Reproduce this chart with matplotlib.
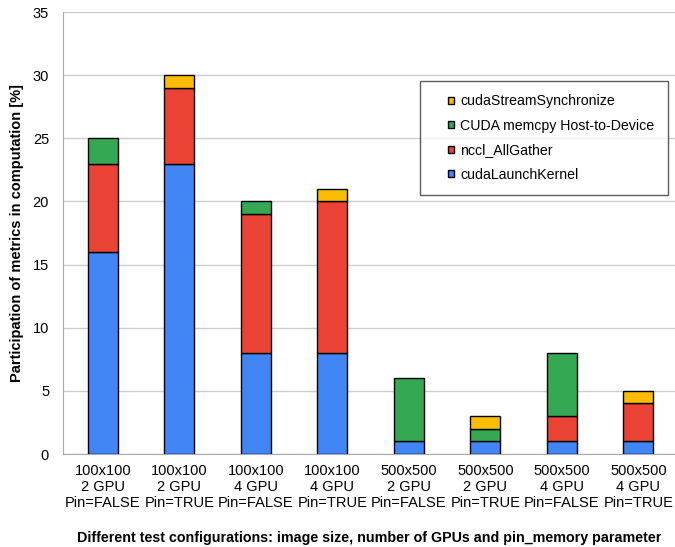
import numpy as np
import matplotlib.pyplot as plt
from matplotlib.legend_handler import HandlerPatch

plt.rcParams['font.family'] = ['Liberation Sans', 'DejaVu Sans']

# Data
configs = ["100x100\n2 GPU\nPin=FALSE", "100x100\n2 GPU\nPin=TRUE",
           "100x100\n4 GPU\nPin=FALSE", "100x100\n4 GPU\nPin=TRUE",
           "500x500\n2 GPU\nPin=FALSE", "500x500\n2 GPU\nPin=TRUE",
           "500x500\n4 GPU\nPin=FALSE", "500x500\n4 GPU\nPin=TRUE"]
launch_kernel = [16, 23, 8, 8, 1, 1, 1, 1]
all_gather = [7, 6, 11, 12, 0, 0, 2, 3]
memcpy_h2d = [2, 0, 1, 0, 5, 1, 5, 0]
stream_sync = [0, 1, 0, 1, 0, 1, 0, 1]

series = [
    ("cudaLaunchKernel", launch_kernel, "#4285F4"),
    ("nccl_AllGather", all_gather, "#EA4335"),
    ("CUDA memcpy Host-to-Device", memcpy_h2d, "#34A853"),
    ("cudaStreamSynchronize", stream_sync, "#FBBC04"),
]


def small_square(legend, orig_handle, xdescent, ydescent, width, height, fontsize):
    # small square marker sitting at the right end of the handle box
    s = 5.0
    return plt.Rectangle((width - s - xdescent, (height - s) / 2 - ydescent), s, s)


fig = plt.figure(figsize=(6.75, 5.47), dpi=100)
ax = fig.add_axes([0.0933, 0.170, 0.9067, 0.808])

x = np.arange(len(configs))
bottom = np.zeros(len(configs))
handles = []
for name, vals, color in series:
    vals = np.array(vals, dtype=float)
    mask = vals > 0
    ax.bar(x[mask], vals[mask], 0.39, bottom=bottom[mask], color=color,
           edgecolor="black", linewidth=1, zorder=3)
    handles.append(plt.Rectangle((0, 0), 1, 1, facecolor=color,
                                 edgecolor="black", linewidth=1, label=name))
    bottom += vals

ax.set_xlim(-0.52, 7.48)
ax.set_ylim(0, 35)
ax.set_yticks(range(0, 36, 5))
ax.set_xticks(x)
ax.set_xticklabels(configs, fontsize=10.5, linespacing=1.2)
ax.tick_params(axis="y", labelsize=10.5, length=0, pad=10)
ax.tick_params(axis="x", length=0, pad=7)
ax.grid(axis="y", color="#cccccc", linewidth=1, zorder=0)

for side in ["top", "right"]:
    ax.spines[side].set_visible(False)
ax.spines["left"].set_color("#aaaaaa")
ax.spines["bottom"].set_color("#aaaaaa")

ax.set_ylabel("Participation of metrics in computation [%]", fontsize=10.5,
              fontweight="bold", labelpad=6)
ax.set_xlabel("Different test configurations: image size, number of GPUs and pin_memory parameter",
              fontsize=10.3, fontweight="bold", labelpad=15)

leg = ax.legend(handles=handles[::-1], loc="upper left",
                bbox_to_anchor=(0.583, 0.845), fontsize=10.2, frameon=True,
                fancybox=False, edgecolor="#333333", handlelength=1.5,
                handleheight=0.7, handletextpad=0.4, labelspacing=0.75,
                borderpad=0.95, borderaxespad=0,
                handler_map={plt.Rectangle: HandlerPatch(patch_func=small_square)})
leg.get_frame().set_linewidth(1)

fig.savefig("out.png", dpi=100)
